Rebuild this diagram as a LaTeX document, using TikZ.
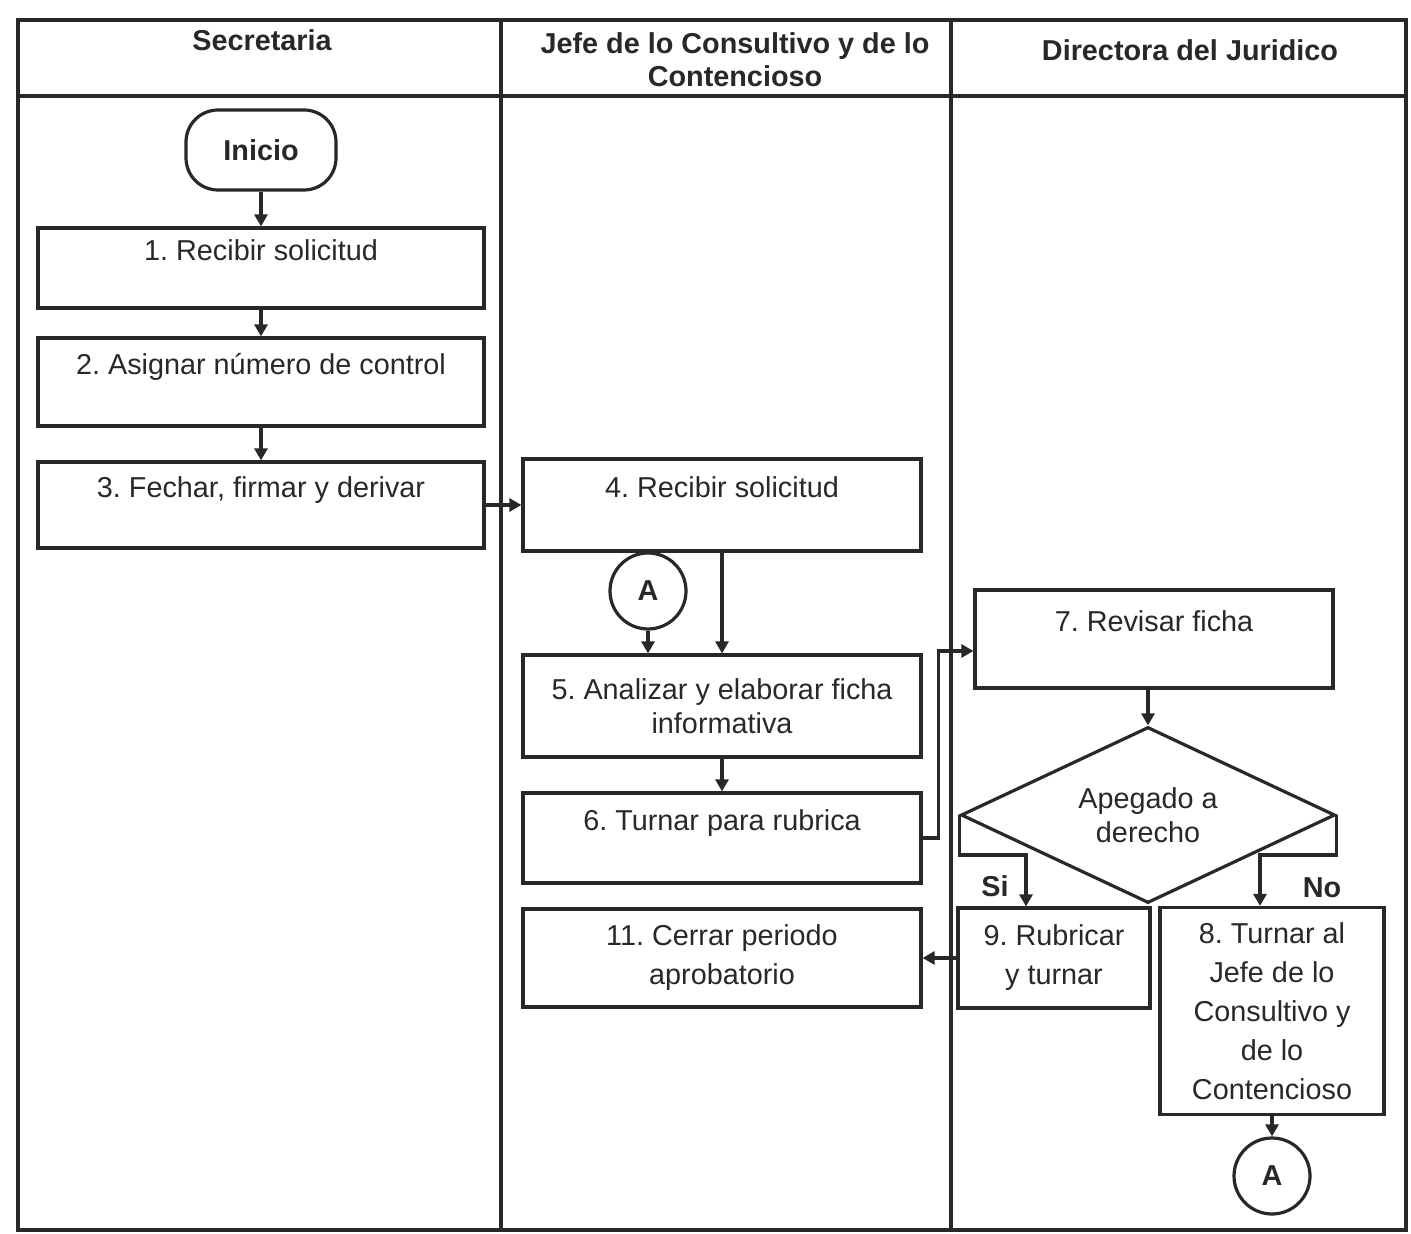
\documentclass[tikz,border=0pt]{standalone}
\usepackage{fontspec}
\setmainfont{Liberation Sans}
\frenchspacing
\usetikzlibrary{shapes.geometric,arrows.meta}
\definecolor{ink}{RGB}{40,40,40}
\begin{document}
\begin{tikzpicture}[x=0.5pt,y=-0.5pt,
  every node/.style={font=\fontsize{14.4}{17}\selectfont, text=ink},
  act/.style={draw=ink, line width=1.6pt, rectangle, align=center, minimum width=199pt},
  up/.style={text depth=18pt},
  wide/.style={font=\fontsize{14.4}{19.5}\selectfont},
  con/.style={draw=ink, line width=1.6pt, circle, minimum size=38pt, font=\fontsize{14.4}{17}\selectfont\bfseries},
  arr/.style={draw=ink, line width=1.6pt, -{Triangle[length=6pt,width=6.5pt]}}]
\useasboundingbox (0,0) rectangle (1411,1234);
% lanes
\draw[ink, line width=1.6pt] (18,20) rectangle (1406,1230);
\draw[ink, line width=1.6pt] (18,96) -- (1406,96);
\draw[ink, line width=1.6pt] (501,20) -- (501,1230);
\draw[ink, line width=1.6pt] (951,20) -- (951,1230);
\node[font=\fontsize{14.4}{17}\selectfont\bfseries] (hsec) at (262,40) {Secretaria};
\node[font=\fontsize{14.4}{16.5}\selectfont\bfseries, align=center] (hjef) at (735,60) {Jefe de lo Consultivo y de lo\\Contencioso};
\node[font=\fontsize{14.4}{17}\selectfont\bfseries] (hdir) at (1190,50) {Directora del Juridico};

\node[draw=ink, line width=1.6pt, rounded corners=16pt, minimum width=75pt, minimum height=40pt, font=\fontsize{14.4}{17}\selectfont\bfseries] (ini) at (261,150) {Inicio};
\node[act, up, minimum width=223pt, minimum height=40pt] (act1) at (261,268) {1. Recibir solicitud};
\node[act, up, minimum width=223pt, minimum height=44pt] (act2) at (261,382) {2. Asignar número de control};
\node[act, up, minimum width=223pt, minimum height=43pt] (act3) at (261,505) {3. Fechar, firmar y derivar};
\node[act, up, minimum height=46pt] (act4) at (722,505) {4. Recibir solicitud};
\node[con] (conA) at (648,591) {A};
\node[act, minimum height=51pt] (act5) at (722,706) {5. Analizar y elaborar ficha\\informativa};
\node[act, up, minimum height=45pt] (act6) at (722,838) {6. Turnar para rubrica};
\node[act, wide, minimum height=49pt] (act11) at (722,958) {11. Cerrar periodo\\aprobatorio};
\node[act, up, minimum width=179pt, minimum height=49pt] (act7) at (1154,639) {7. Revisar ficha};
\node[draw=ink, line width=1.6pt, diamond, aspect=2.1, align=center, minimum width=187pt, minimum height=88pt, inner sep=0pt] (dec) at (1148,815) {Apegado a\\derecho};
\node[act, wide, minimum width=96pt, minimum height=50pt] (act9) at (1054,958) {9. Rubricar\\y turnar};
\node[act, wide, minimum width=112pt, minimum height=103.5pt] (act8) at (1272,1011) {8. Turnar al\\Jefe de lo\\Consultivo y\\de lo\\Contencioso};
\node[con] (conB) at (1272,1176) {A};
\node[font=\fontsize{14.4}{17}\selectfont\bfseries] (lsi) at (995,886) {Si};
\node[font=\fontsize{14.4}{17}\selectfont\bfseries] (lno) at (1322,888) {No};

\draw[arr] (ini) -- (act1);
\draw[arr] (act1) -- (act2);
\draw[arr] (act2) -- (act3);
\draw[arr] (act3) -- (act4);
\draw[arr] (conA) -- (conA |- act5.north);
\draw[arr] (act4) -- (act5);
\draw[arr] (act5) -- (act6);
\draw[arr] (act6.east) -- ++(16,0) |- ([yshift=-6pt]act7.west);
\draw[arr] (act7.south -| dec.north) -- (dec);
\draw[arr] (dec.west) -- ++(0,40) -| ([xshift=-14pt]act9.north);
\draw[arr] (dec.east) -- ++(0,40) -| ([xshift=-6pt]act8.north);
\draw[arr] (act9) -- (act11);
\draw[arr] (act8) -- (conB);

\end{tikzpicture}
\end{document}
